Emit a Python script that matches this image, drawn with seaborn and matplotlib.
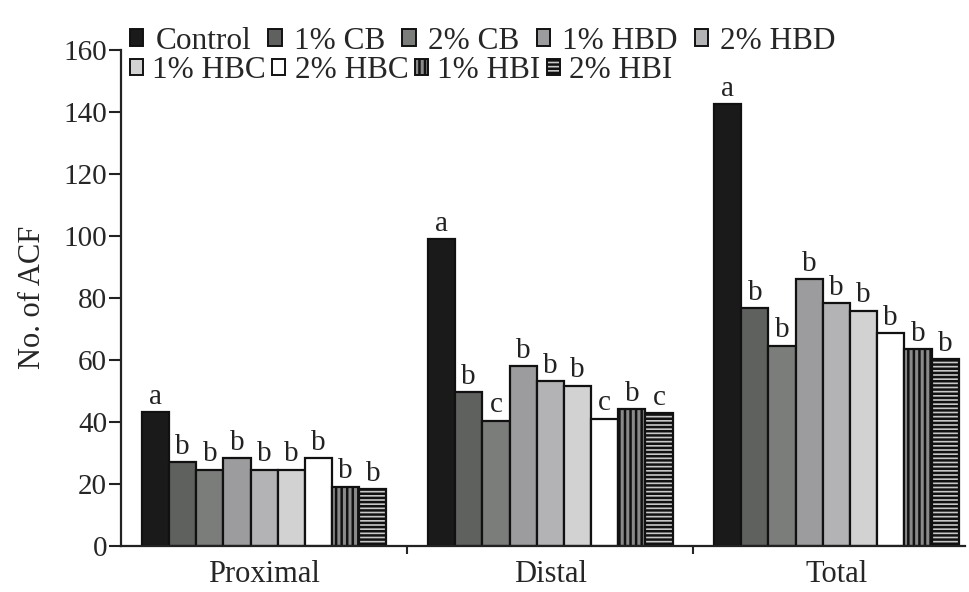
import numpy as np
import pandas as pd
import matplotlib
matplotlib.use("Agg")
import matplotlib.pyplot as plt
import seaborn as sns
from matplotlib.patches import Patch

regions = ["Proximal", "Distal", "Total"]
treatments = ["Control", "1% CB", "2% CB", "1% HBD", "2% HBD",
              "1% HBC", "2% HBC", "1% HBI", "2% HBI"]
proximal = [43, 27, 24.5, 28.3, 24.5, 24.5, 28.3, 19, 18.3]
distal = [98.9, 49.5, 40.4, 58, 53, 51.7, 41, 44, 42.8]
total = [142.5, 76.7, 64.5, 86, 78.3, 75.8, 68.5, 63.4, 60.2]
letters_proximal = ["a", "b", "b", "b", "b", "b", "b", "b", "b"]
letters_distal = ["a", "b", "c", "b", "b", "b", "c", "b", "c"]
letters_total = ["a", "b", "b", "b", "b", "b", "b", "b", "b"]
yticks = [0, 20, 40, 60, 80, 100, 120, 140, 160]

colors = ["#1a1a1a", "#5f615f", "#7b7d7b", "#9c9b9e", "#b3b2b5",
          "#d2d2d2", "#ffffff", "#8a8a8a", "#c8c8c8"]
hatches = [None, None, None, None, None, None, None, "|||", "----"]

sns.set_theme(style="ticks")
plt.rcParams["font.family"] = ["Liberation Serif", "DejaVu Serif"]
plt.rcParams["hatch.linewidth"] = 1.8
plt.rcParams["hatch.color"] = "#1a1a1a"

values = [proximal, distal, total]
letters = [letters_proximal, letters_distal, letters_total]
rows = []
for r, vals in zip(regions, values):
    for t, v in zip(treatments, vals):
        rows.append({"region": r, "treatment": t, "value": v})
df = pd.DataFrame(rows)

fig = plt.figure(figsize=(9.69, 5.92), dpi=100)
ax = fig.add_axes([0.125, 0.078, 0.871, 0.838])

sns.barplot(data=df, x="region", y="value", hue="treatment",
            order=regions, hue_order=treatments, palette=colors,
            width=0.855, gap=0, edgecolor="#111111", linewidth=1.6,
            legend=False, ax=ax)

for i, cont in enumerate(ax.containers):
    for j, bar in enumerate(cont):
        bar.set_facecolor(colors[i])
        bar.set_edgecolor("#111111")
        if hatches[i]:
            bar.set_hatch(hatches[i])
        h = bar.get_height()
        ax.text(bar.get_x() + bar.get_width() / 2, h + 0.8, letters[j][i],
                ha="center", va="bottom", fontsize=21, color="#222222")

ax.set_ylim(0, 160)
ax.set_xlim(-0.5, 2.45)
ax.set_yticks(yticks)
ax.set_yticklabels([str(v) for v in yticks], fontsize=21)
ax.tick_params(axis="y", length=9, width=1.5, color="#222222", pad=1)
ax.tick_params(axis="x", which="major", length=0, labelsize=22, pad=10)
ax.set_xticks([0.5, 1.5], minor=True)
ax.tick_params(axis="x", which="minor", length=6, width=1.5)
ax.set_xlabel("")
ax.set_ylabel("No. of ACF", fontsize=22, labelpad=12)
for s in ["top", "right"]:
    ax.spines[s].set_visible(False)
for s in ["left", "bottom"]:
    ax.spines[s].set_linewidth(1.6)
    ax.spines[s].set_color("#222222")

def mk(i):
    return Patch(facecolor=colors[i], edgecolor="#111111", linewidth=1.4,
                 hatch=hatches[i], label=treatments[i])

leg_kw = dict(frameon=False, fontsize=22.5, handlelength=0.42, handleheight=0.42,
              borderpad=0, borderaxespad=0, labelspacing=0)
leg1 = fig.legend(handles=[mk(i) for i in range(5)], ncol=5,
                  loc="upper left", bbox_to_anchor=(0.134, 0.955),
                  handletextpad=0.4, columnspacing=0.55, **leg_kw)
leg2 = fig.legend(handles=[mk(i) for i in range(5, 9)], ncol=4,
                  loc="upper left", bbox_to_anchor=(0.134, 0.905),
                  handletextpad=0.3, columnspacing=0.2, **leg_kw)

fig.savefig("out.png", dpi=100)
